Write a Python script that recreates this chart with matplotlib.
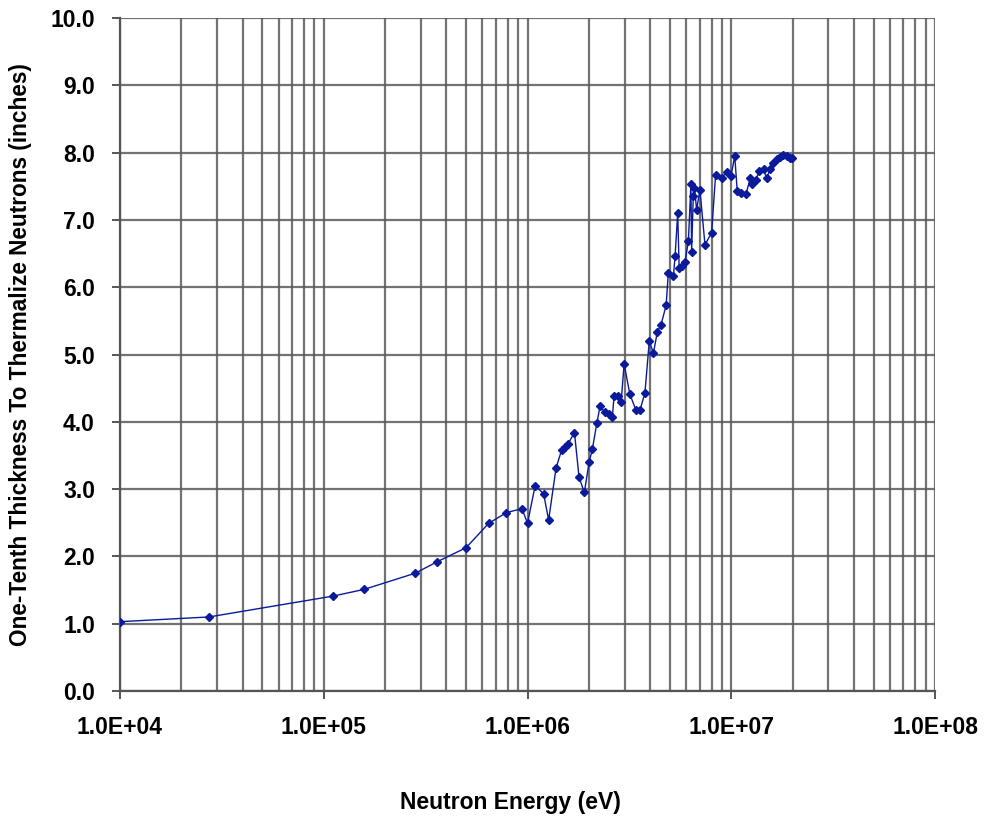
import matplotlib.pyplot as plt
from matplotlib.ticker import LogLocator, FixedLocator, FuncFormatter

plt.rcParams['font.family'] = ['Liberation Sans', 'DejaVu Sans']

# Neutron energy (eV) and one-tenth thickness (inches)
energy = [1.0e4, 2.73e4, 1.11e5, 1.58e5, 2.81e5, 3.6e5, 5.0e5, 6.44e5, 7.87e5,
          9.4e5, 1.0e6, 1.09e6, 1.2e6, 1.27e6, 1.38e6, 1.47e6, 1.52e6, 1.58e6,
          1.70e6, 1.79e6, 1.90e6, 2.01e6, 2.08e6, 2.19e6, 2.27e6, 2.40e6, 2.51e6,
          2.61e6, 2.66e6, 2.77e6, 2.88e6, 2.98e6, 3.18e6, 3.40e6, 3.57e6, 3.77e6,
          3.96e6, 4.15e6, 4.34e6, 4.52e6, 4.79e6, 4.91e6, 5.2e6, 5.3e6, 5.46e6,
          5.55e6, 5.76e6, 5.93e6, 6.16e6, 6.34e6, 6.39e6, 6.51e6, 6.6e6, 6.76e6,
          7.02e6, 7.43e6, 8.01e6, 8.38e6, 8.97e6, 9.49e6, 9.97e6, 1.04e7, 1.07e7,
          1.12e7, 1.18e7, 1.24e7, 1.27e7, 1.32e7, 1.37e7, 1.44e7, 1.49e7, 1.55e7,
          1.61e7, 1.67e7, 1.73e7, 1.80e7, 1.87e7, 1.94e7, 1.99e7]
thickness = [1.03, 1.10, 1.41, 1.51, 1.75, 1.92, 2.13, 2.49, 2.65,
             2.71, 2.49, 3.05, 2.93, 2.54, 3.31, 3.58, 3.62, 3.67,
             3.84, 3.18, 2.95, 3.41, 3.59, 3.98, 4.23, 4.14, 4.11,
             4.07, 4.39, 4.39, 4.29, 4.86, 4.41, 4.18, 4.18, 4.43,
             5.20, 5.02, 5.34, 5.44, 5.73, 6.21, 6.16, 6.46, 7.10,
             6.29, 6.32, 6.38, 6.68, 7.53, 6.53, 7.35, 7.48, 7.15,
             7.45, 6.63, 6.81, 7.67, 7.62, 7.71, 7.65, 7.95, 7.43,
             7.40, 7.38, 7.62, 7.53, 7.60, 7.72, 7.75, 7.62, 7.75,
             7.85, 7.90, 7.94, 7.96, 7.95, 7.92, 7.92]

fig = plt.figure(figsize=(9.87, 8.16), dpi=100)
ax = fig.add_axes([120 / 987, 1 - 691 / 816, 815 / 987, 673 / 816])

navy = '#0A1A9A'
ax.plot(energy, thickness, color=navy, lw=1.0, marker='D', ms=4.5,
        mfc=navy, mec=navy, zorder=3)

ax.set_xscale('log')
ax.set_xlim(1e4, 1e8)
ax.set_ylim(0, 10)

ax.xaxis.set_major_locator(FixedLocator([1e4, 1e5, 1e6, 1e7, 1e8]))
ax.xaxis.set_minor_locator(LogLocator(base=10, subs=range(2, 10), numticks=20))
ax.xaxis.set_major_formatter(FuncFormatter(lambda v, p: f'{v:.1E}'))
ax.yaxis.set_major_locator(FixedLocator([i for i in range(11)]))
ax.yaxis.set_major_formatter(FuncFormatter(lambda v, p: f'{v:.1f}'))

ax.grid(True, which='both', color='#5a5a5a', lw=1.6, alpha=0.85)
ax.tick_params(axis='x', which='minor', length=0)
ax.tick_params(axis='both', which='major', length=6, width=1.4, labelsize=16.5,
               direction='out', color='#555555')
ax.tick_params(axis='x', which='major', pad=12)
ax.tick_params(axis='y', which='major', pad=12)
for lab in ax.get_xticklabels() + ax.get_yticklabels():
    lab.set_fontweight('bold')

for side in ['top', 'right']:
    ax.spines[side].set_visible(False)
for side in ['left', 'bottom']:
    ax.spines[side].set_linewidth(1.6)
    ax.spines[side].set_color('#555555')

ax.set_xlabel('Neutron Energy (eV)', fontsize=16.5, fontweight='bold')
ax.xaxis.set_label_coords(0.479, -0.149)
ax.set_ylabel('One-Tenth Thickness To Thermalize Neutrons (inches)', fontsize=16.3,
              fontweight='bold', labelpad=13)

fig.savefig('out.png', dpi=100)
